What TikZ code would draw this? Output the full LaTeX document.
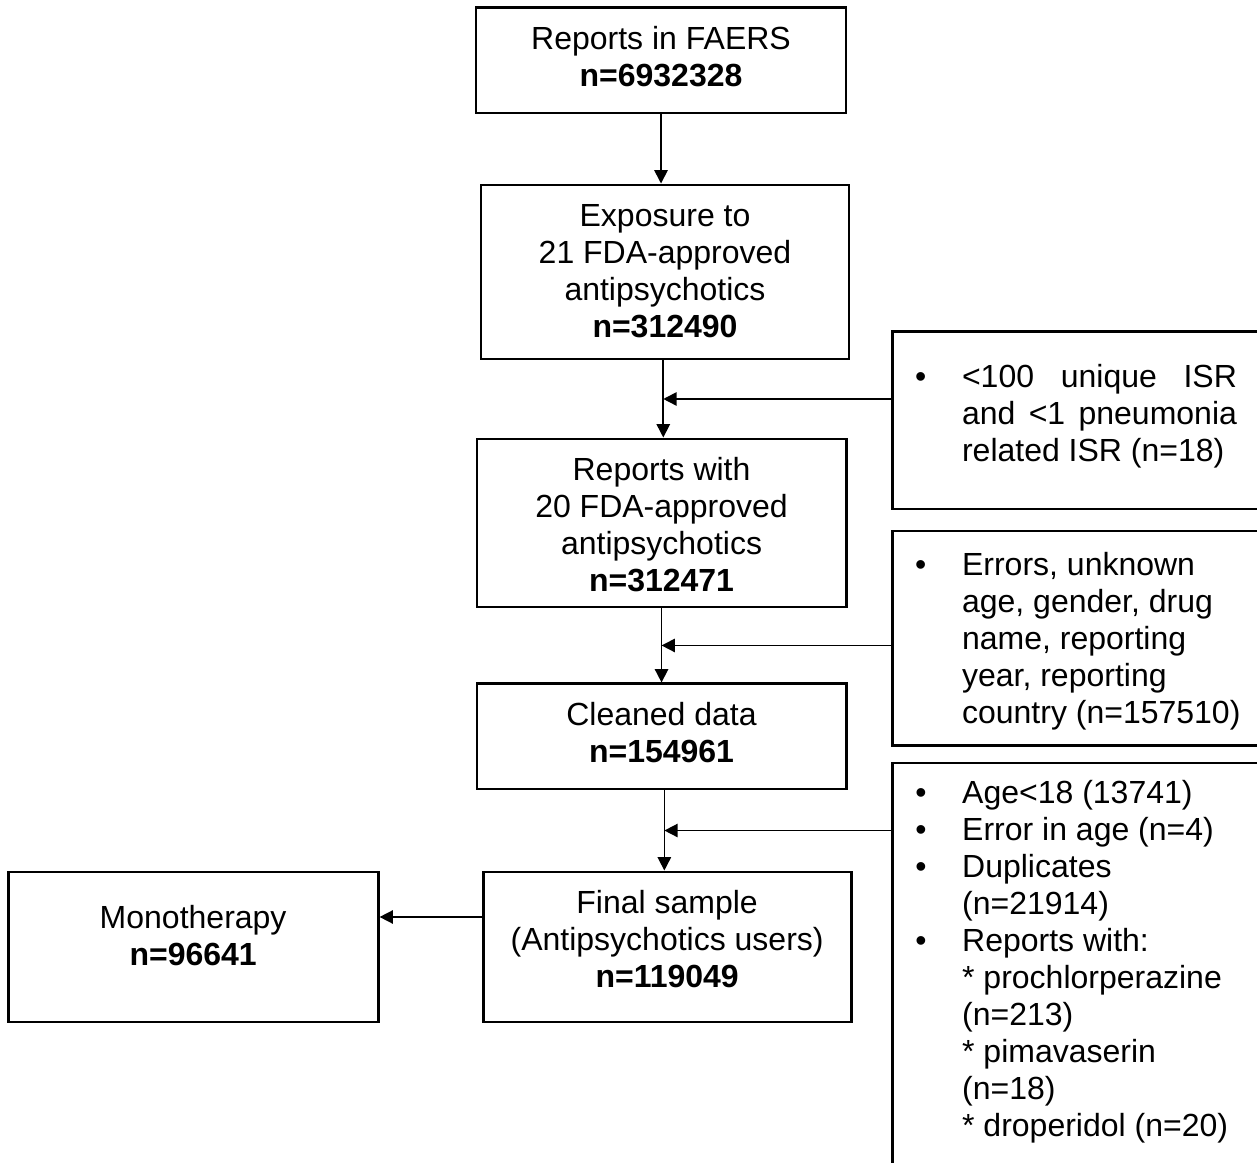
\documentclass[tikz,border=0pt]{standalone}
\usepackage{fontspec}
\setmainfont{Liberation Sans}
\usetikzlibrary{positioning, arrows.meta}

% box text: width, height, first baseline, text
\newcommand{\boxtext}[4]{\parbox[c][#2][t]{#1}{\centering\rule{0pt}{#3}#4}}
\newcommand{\listtext}[4]{\parbox[c][#2][t]{#1}{\raggedright\leftskip=26.25pt #4}}
\newcommand{\bul}[1]{\par\noindent\llap{\makebox[17.6pt][l]{\textbullet}}\rule{0pt}{#1}}

\begin{document}
\begin{tikzpicture}[x=0.375pt, y=0.375pt, on grid,
    stepbox/.style={draw, line width=1.1pt, inner sep=0pt,
        font=\fontsize{12}{13.875}\selectfont},
    arr/.style={-{Triangle[length=5pt, width=5pt]}, line width=0.6pt}]
        \useasboundingbox (0,0) rectangle (1257,1162);

        \node[stepbox] (faers) at (661,1101.5)
            {\boxtext{138.75pt}{39.4pt}{15.5pt}{Reports in FAERS\\\textbf{n=6932328}}};
        \node[stepbox, below=211.5 of faers, xshift=1.5pt] (expo)
            {\boxtext{138pt}{65.25pt}{15.5pt}{Exposure to\\21 FDA-approved\\antipsychotics\\\textbf{n=312490}}};
        \node[stepbox, below=251 of expo, xshift=-1.3pt] (rep20)
            {\boxtext{138.4pt}{63pt}{15.5pt}{Reports with\\20 FDA-approved\\antipsychotics\\\textbf{n=312471}}};
        \node[stepbox, below=213.5 of rep20] (clean)
            {\boxtext{138.4pt}{39.4pt}{15.5pt}{Cleaned data\\\textbf{n=154961}}};
        \node[stepbox, below=210.5 of clean, xshift=2.1pt] (final)
            {\boxtext{138pt}{56.25pt}{15.5pt}{Final sample\\(Antipsychotics users)\\\textbf{n=119049}}};
        \node[stepbox, left=474 of final] (mono)
            {\boxtext{138.75pt}{56.25pt}{21.2pt}{Monotherapy\\\textbf{n=96641}}};

        % exclusion boxes
        \node[stepbox, below right=148.5 and 410.5 of expo] (excl1)
            {\listtext{137.6pt}{66.4pt}{}{\rightskip=8.25pt
             \bul{20.8pt}<100\hfill\ unique\hfill\ ISR\\
             and\hfill\ <1\hfill\ pneumonia\\
             related ISR (n=18)}};
        \node[stepbox, below right=115.5 and 414 of rep20] (excl2)
            {\listtext{137.6pt}{80.6pt}{}{%
             \bul{16.7pt}Errors, unknown\\
             age, gender, drug\\
             name, reporting\\
             year, reporting\\
             country (n=157510)}};
        \node[stepbox, below right=22 and 408.5 of final] (excl3)
            {\listtext{137.6pt}{154.5pt}{}{%
             \bul{15.2pt}Age<18 (13741)
             \bul{0pt}Error in age (n=4)
             \bul{0pt}Duplicates\\
             (n=21914)
             \bul{0pt}Reports with:\\{}%
             * prochlorperazine\\
             (n=213)\\{}%
             * pimavaserin\\
             (n=18)\\{}%
             * droperidol (n=20)}};

        \path (expo.south) -- (rep20.north) coordinate[midway] (j1);
        \path (rep20.south) -- (clean.north) coordinate[midway] (j2);
        \path (clean.south) -- (final.north) coordinate[midway] (j3);

        \draw[arr] (faers.south) -- (faers.south |- expo.north);
        \draw[arr] (j1 |- expo.south) -- (j1 |- rep20.north);
        \draw[arr] (j2 |- rep20.south) -- (j2 |- clean.north);
        \draw[arr] (j3 |- clean.south) -- (j3 |- final.north);
        \draw[arr] (excl1.west |- j1) -- (j1);
        \draw[arr] (excl2.west |- j2) -- (j2);
        \draw[arr] (excl3.west |- j3) -- (j3);
        \draw[arr] ([yshift=11.25pt]final.west) -- ([yshift=11.25pt]mono.east);
    \end{tikzpicture}
\end{document}
